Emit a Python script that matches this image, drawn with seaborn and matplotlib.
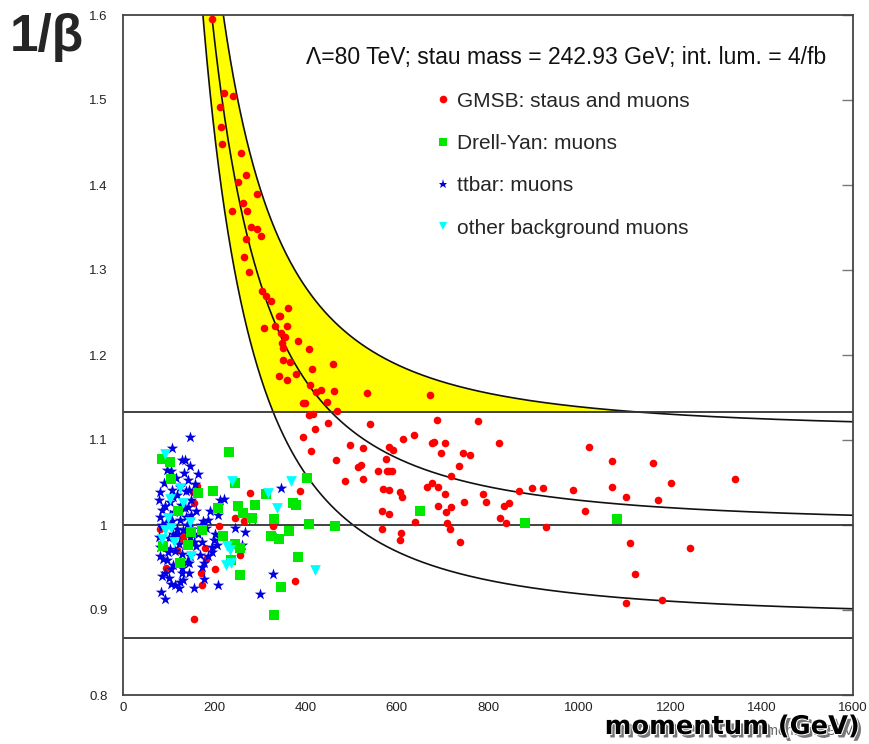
import numpy as np
import pandas as pd
import matplotlib
matplotlib.use("Agg")
import matplotlib.pyplot as plt
import seaborn as sns
from matplotlib import patheffects as pe
from matplotlib.lines import Line2D

# ---------------- data ----------------
stau_mass = 242.93           # GeV
band_half_width = 0.11       # band around 1/beta curve
h_lines = [1.133, 1.0, 0.867]

gmsb_p = [194, 221, 241, 213, 214, 218, 259, 270, 251, 294, 262, 240, 272, 281, 294, 302, 270, 266,
          276, 304, 313, 324, 361, 342, 344, 309, 334, 360, 346, 356, 384, 348, 407, 351, 351, 366,
          460, 414, 342, 360, 379, 410, 424, 434, 463, 534, 672, 447, 395, 399, 468, 408, 416, 449,
          541, 689, 421, 777, 394, 411, 498, 526, 582, 591, 614, 638, 677, 682, 705, 696, 745, 760,
          824, 467, 577, 736, 515, 522, 560, 578, 584, 590, 719, 525, 486, 388, 569, 582, 666, 678,
          690, 608, 611, 706, 788, 869, 896, 921, 690, 720, 708, 748, 796, 834, 845, 568, 584, 826,
          840, 639, 711, 928, 717, 568, 609, 607, 738, 1022, 1072, 1162, 1341, 986, 1072, 1202, 1102,
          1172, 1012, 1111, 1242, 1122, 1102, 1182, 162, 278, 153, 156, 245, 266, 211, 329, 81, 129,
          132, 257, 180, 118, 181, 94, 202, 171, 377, 173, 156]
gmsb_v = [1.595, 1.508, 1.505, 1.492, 1.468, 1.448, 1.438, 1.412, 1.403, 1.390, 1.379, 1.370, 1.369,
          1.351, 1.348, 1.340, 1.337, 1.315, 1.298, 1.275, 1.269, 1.263, 1.255, 1.246, 1.246, 1.232,
          1.234, 1.234, 1.226, 1.221, 1.217, 1.214, 1.207, 1.208, 1.194, 1.192, 1.190, 1.183, 1.175,
          1.171, 1.178, 1.165, 1.156, 1.159, 1.158, 1.155, 1.153, 1.145, 1.143, 1.144, 1.134, 1.130,
          1.131, 1.120, 1.119, 1.124, 1.113, 1.122, 1.103, 1.087, 1.094, 1.091, 1.092, 1.088, 1.101,
          1.106, 1.097, 1.098, 1.097, 1.085, 1.085, 1.082, 1.096, 1.076, 1.078, 1.070, 1.068, 1.071,
          1.064, 1.063, 1.063, 1.064, 1.058, 1.054, 1.052, 1.040, 1.042, 1.041, 1.045, 1.050, 1.045,
          1.039, 1.033, 1.037, 1.036, 1.040, 1.043, 1.044, 1.022, 1.021, 1.015, 1.027, 1.027, 1.022,
          1.026, 1.017, 1.013, 1.008, 1.002, 1.003, 1.002, 0.998, 0.995, 0.995, 0.991, 0.982, 0.980,
          1.092, 1.075, 1.073, 1.054, 1.041, 1.045, 1.049, 1.033, 1.030, 1.016, 0.979, 0.973, 0.942,
          0.908, 0.912, 1.046, 1.038, 1.039, 1.026, 1.008, 1.005, 0.999, 0.999, 0.995, 0.987, 0.984,
          0.965, 0.973, 0.971, 0.960, 0.950, 0.948, 0.943, 0.934, 0.929, 0.889]

dy_p = [86, 103, 232, 105, 164, 197, 245, 313, 403, 373, 379, 289, 251, 264, 208, 282, 331, 121, 407,
        364, 343, 324, 220, 174, 246, 256, 384, 237, 256, 347, 332, 143, 149, 465, 652, 881, 1082, 87, 125]
dy_v = [1.078, 1.074, 1.086, 1.054, 1.038, 1.040, 1.049, 1.037, 1.055, 1.026, 1.024, 1.024, 1.022,
        1.014, 1.020, 1.008, 1.007, 1.016, 1.001, 0.993, 0.983, 0.987, 0.987, 0.994, 0.978, 0.973,
        0.962, 0.959, 0.941, 0.927, 0.894, 0.976, 0.992, 0.999, 1.016, 1.002, 1.007, 0.975, 0.955]

tt_p = [147, 108, 130, 136, 147, 105, 134, 143, 346, 81, 107, 110, 145, 213, 222, 80, 103, 143, 160,
        191, 187, 209, 85, 81, 103, 125, 282, 246, 267, 334, 85, 110, 132, 147, 165, 173, 202, 200,
        260, 194, 205, 81, 103, 129, 147, 169, 187, 81, 96, 125, 173, 110, 91, 129, 145, 178, 329,
        125, 132, 105, 156, 123, 208, 84, 92, 301, 80, 90, 95, 118, 140, 152, 100, 115, 135, 125,
        88, 160, 108, 150, 97, 130, 85, 145, 118, 105, 175, 165,
        92, 112, 122, 138, 155, 170, 183, 98, 116, 128, 141, 158, 86, 101, 119, 137, 150, 178, 195, 113]
tt_v = [1.104, 1.090, 1.077, 1.077, 1.069, 1.064, 1.061, 1.053, 1.043, 1.039, 1.041, 1.033, 1.041,
        1.029, 1.031, 1.029, 1.027, 1.021, 1.016, 1.016, 1.006, 1.012, 1.018, 1.010, 1.012, 1.006,
        1.007, 0.996, 0.992, 0.987, 0.998, 0.990, 0.994, 0.986, 0.990, 0.980, 0.990, 0.982, 0.976,
        0.974, 0.976, 0.974, 0.972, 0.966, 0.964, 0.965, 0.963, 0.963, 0.959, 0.959, 0.951, 0.953,
        0.944, 0.943, 0.943, 0.937, 0.942, 0.933, 0.935, 0.931, 0.926, 0.926, 0.930, 0.921, 0.913,
        0.919, 0.986, 1.050, 1.002, 1.035, 1.000, 0.995, 0.985, 0.970, 1.020, 1.045, 0.960, 0.975,
        1.005, 1.030, 1.065, 0.950, 0.940, 0.955, 0.995, 0.948, 1.005, 1.060,
        1.022, 1.015, 0.978, 1.010, 0.980, 1.000, 0.996, 0.968, 1.055, 1.024, 0.957, 1.048, 1.000,
        0.938, 0.990, 1.040, 1.012, 0.955, 0.968, 0.930]

oth_p = [91, 240, 368, 317, 132, 103, 99, 147, 105, 92, 85, 112, 337, 227, 235, 148, 226, 236, 421, 125]
oth_v = [1.083, 1.052, 1.052, 1.038, 1.026, 1.031, 1.008, 1.004, 0.996, 0.994, 0.984, 0.980, 1.020,
         0.975, 0.971, 0.963, 0.953, 0.955, 0.947, 1.043]

x_ticks = [0, 200, 400, 600, 800, 1000, 1200, 1400, 1600]
y_ticks = [0.8, 0.9, 1.0, 1.1, 1.2, 1.3, 1.4, 1.5, 1.6]
y_tick_labels = ["0.8", "0.9", "1", "1.1", "1.2", "1.3", "1.4", "1.5", "1.6"]

series_labels = ["GMSB: staus and muons", "Drell-Yan: muons", "ttbar: muons", "other background muons"]
title_text = "\u039b=80 TeV; stau mass = 242.93 GeV; int. lum. = 4/fb"

# ---------------- styling ----------------
sns.set_style("white")
plt.rcParams["font.family"] = ["Liberation Sans", "DejaVu Sans"]

RED, GREEN, BLUE, CYAN = "#ff0000", "#00e800", "#0000e0", "#00ffff"

fig = plt.figure(figsize=(8.7, 7.44), dpi=100)
ax = fig.add_axes([123 / 870, 1 - 695 / 744, 730 / 870, 680 / 744])

# kinematic curves 1/beta = sqrt(1 + m^2/p^2), with +-band
pp = np.linspace(120, 1600, 3000)
mid = np.sqrt(1 + (stau_mass / pp) ** 2)
lower = mid - band_half_width
upper = mid + band_half_width
ax.fill_between(pp, np.maximum(lower, h_lines[0]), upper, where=upper >= h_lines[0],
                interpolate=True, color="#ffff00", lw=0, zorder=1)
for c in (lower, mid, upper):
    ax.plot(pp, c, color="#111111", lw=1.2, zorder=2)
for h in h_lines:
    ax.axhline(h, color="#333333", lw=1.3, zorder=2)

df_g = pd.DataFrame({"p": gmsb_p, "v": gmsb_v})
df_d = pd.DataFrame({"p": dy_p, "v": dy_v})
df_t = pd.DataFrame({"p": tt_p, "v": tt_v})
df_o = pd.DataFrame({"p": oth_p, "v": oth_v})

sns.scatterplot(data=df_g, x="p", y="v", marker="o", color=RED, s=30, linewidth=0, ax=ax, zorder=3)
sns.scatterplot(data=df_t, x="p", y="v", marker="*", color=BLUE, s=75, linewidth=0, ax=ax, zorder=4)
sns.scatterplot(data=df_d, x="p", y="v", marker="s", color=GREEN, s=48, linewidth=0, ax=ax, zorder=5)
sns.scatterplot(data=df_o, x="p", y="v", marker="v", color=CYAN, s=60, linewidth=0, ax=ax, zorder=6)

ax.set_xlim(0, 1600)
ax.set_ylim(0.8, 1.6)
ax.set_xticks(x_ticks)
ax.set_xticklabels([str(t) for t in x_ticks])
ax.set_yticks(y_ticks)
ax.set_yticklabels(y_tick_labels)
ax.set_xlabel("")
ax.set_ylabel("")
ax.tick_params(axis="both", direction="in", length=8, width=1, color="#777777",
               labelcolor="#222222", labelsize=9.5)
ax.tick_params(axis="x", pad=5)
ax.tick_params(axis="y", pad=11, right=True)
for s in ax.spines.values():
    s.set_color("#444444")
    s.set_linewidth(1.3)

ax.text(0.2507, 0.938, title_text, transform=ax.transAxes, fontsize=16.5,
        ha="left", va="center", color="#111111", zorder=10)

handles = [
    Line2D([], [], ls="", marker="o", color=RED, markersize=5.5, markeredgewidth=0),
    Line2D([], [], ls="", marker="s", color=GREEN, markersize=5.5, markeredgewidth=0),
    Line2D([], [], ls="", marker="*", color=BLUE, markersize=6.5, markeredgewidth=0),
    Line2D([], [], ls="", marker="v", color=CYAN, markersize=6, markeredgewidth=0),
]
leg = ax.legend(handles, series_labels, loc="upper left", bbox_to_anchor=(0.4299, 0.8874),
                frameon=False, fontsize=15, handlelength=0.6, handletextpad=0.35,
                labelspacing=1.12, borderpad=0, borderaxespad=0)
leg.set_zorder(10)

fig.text(0.054, 0.949, "1/\u03b2", fontsize=37, fontweight="bold", ha="center", va="center")

fig.text(858 / 870, 1 - 731 / 744, "momentum (GeV)", fontsize=10, color="#666666",
         ha="right", va="center", zorder=1)
fig.text(0.842, 1 - 727 / 744, "momentum (GeV)", fontsize=18.5, fontweight="bold",
         family="DejaVu Sans", ha="center", va="center", color="black", zorder=5,
         path_effects=[pe.SimplePatchShadow(offset=(2.5, -2.5), shadow_rgbFace="#777777", alpha=1.0),
                       pe.Stroke(linewidth=1.5, foreground="white"), pe.Normal()])

fig.savefig("out.png", dpi=100)
